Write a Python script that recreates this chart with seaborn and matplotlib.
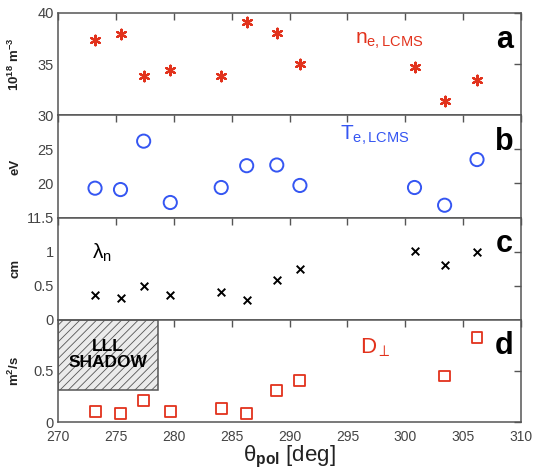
import matplotlib
matplotlib.use("Agg")
import matplotlib.pyplot as plt
import seaborn as sns
import pandas as pd
from matplotlib.patches import Rectangle

# ---- data ----
theta = [273.2, 275.4, 277.4, 279.7, 284.1, 286.3, 288.9, 290.9, 300.8, 303.4, 306.2]
ne = [37.4, 37.9, 33.8, 34.4, 33.8, 39.1, 38.0, 35.0, 34.7, 31.4, 33.4]
te = [19.3, 19.1, 26.2, 17.2, 19.4, 22.6, 22.7, 19.7, 19.4, 16.8, 23.5]
lam = [0.36, 0.32, 0.49, 0.37, 0.41, 0.29, 0.58, 0.74, 1.01, 0.81, 1.00]
theta_d = [273.2, 275.4, 277.4, 279.7, 284.1, 286.3, 288.9, 290.9, 303.4, 306.2]
dperp = [0.10, 0.08, 0.21, 0.10, 0.13, 0.08, 0.31, 0.41, 0.45, 0.83]

xticks = [270, 275, 280, 285, 290, 295, 300, 305, 310]
yt_a = [30, 35, 40]; yl_a = ["30", "35", "40"]
yt_b = [15, 20, 25]; yl_b = ["11.5", "20", "25"]
yt_c = [0, 0.5, 1]; yl_c = ["0", "0.5", "1"]
yt_d = [0, 0.5]; yl_d = ["0", "0.5"]

RED = "#e2321c"
BLUE = "#3556f2"
GREY = "#555555"

sns.set_style("white")
plt.rcParams["font.family"] = ["Liberation Sans", "DejaVu Sans"]
plt.rcParams["mathtext.fontset"] = "custom"
plt.rcParams["mathtext.rm"] = "Liberation Sans"
plt.rcParams["mathtext.it"] = "Liberation Sans:italic"
plt.rcParams["mathtext.bf"] = "Liberation Sans:bold"
plt.rcParams["mathtext.fallback"] = "stixsans"
plt.rcParams["hatch.color"] = "#cfcfcf"
plt.rcParams["hatch.linewidth"] = 0.6

fig = plt.figure(figsize=(5.33, 4.75), dpi=100)
left, right, top, bottom = 58/533, 521/533, 1-13/475, 1-422/475
h = (top - bottom) / 4
axes = [fig.add_axes([left, top - (i+1)*h, right-left, h]) for i in range(4)]
ax_a, ax_b, ax_c, ax_d = axes

df_a = pd.DataFrame({"theta": theta, "v": ne})
df_b = pd.DataFrame({"theta": theta, "v": te})
df_c = pd.DataFrame({"theta": theta, "v": lam})
df_d = pd.DataFrame({"theta": theta_d, "v": dperp})

sns.scatterplot(data=df_a, x="theta", y="v", ax=ax_a, marker=(6, 2, 0), s=48,
                color=RED, edgecolor=RED, linewidth=1.6, legend=False)
sns.scatterplot(data=df_b, x="theta", y="v", ax=ax_b, marker="o", s=90,
                facecolor="none", edgecolor=BLUE, linewidth=1.4, legend=False)
sns.scatterplot(data=df_c, x="theta", y="v", ax=ax_c, marker="x", s=30,
                color="black", linewidth=1.4, legend=False)
sns.scatterplot(data=df_d, x="theta", y="v", ax=ax_d, marker="s", s=62,
                facecolor="none", edgecolor=RED, linewidth=1.3, legend=False)

ylims = [(30, 40), (15, 30), (0, 1.5), (0, 1.0)]
yts = [(yt_a, yl_a), (yt_b, yl_b), (yt_c, yl_c), (yt_d, yl_d)]
ylabels = [r"$\mathbf{10^{18}\ m^{-3}}$", "eV", "cm", r"$\mathbf{m^{2}/s}$"]
for i, ax in enumerate(axes):
    ax.set_xlim(270, 310)
    ax.set_ylim(*ylims[i])
    ax.set_xticks(xticks)
    ax.set_yticks(yts[i][0])
    ax.set_yticklabels(yts[i][1])
    ax.tick_params(direction="in", top=True, right=True, length=5, width=1,
                   color=GREY, labelsize=10.5, labelcolor="#444444", pad=3)
    ax.tick_params(axis="x", pad=6, labelsize=10)
    if i < 3:
        ax.tick_params(labelbottom=False)
    for sp in ax.spines.values():
        sp.set_color(GREY)
        sp.set_linewidth(1.1)
    ax.set_xlabel("")
    ax.set_ylabel(ylabels[i], fontsize=9.5, fontweight="bold", color="#222222")
    ax.yaxis.set_label_coords(-0.078, 0.5)

# panel letters
for ax, letter in zip(axes, ["a", "b", "c", "d"]):
    ax.text(0.964, 0.74, letter, transform=ax.transAxes, fontsize=22,
            fontweight="bold", ha="center", va="center", color="black")

# annotations
ax_a.text(295.7, 37.3, r"$\mathregular{n_{e,LCMS}}$", color=RED, fontsize=15,
          ha="left", va="center")
ax_b.text(294.4, 27.0, r"$\mathregular{T_{e,LCMS}}$", color=BLUE, fontsize=15,
          ha="left", va="center")
ax_c.text(272.9, 0.98, r"$\mathregular{\lambda_{n}}$", color="black", fontsize=15,
          ha="left", va="center")
ax_d.text(296.1, 0.73, r"$\mathregular{D_{\perp}}$", color=RED, fontsize=16,
          ha="left", va="center")

# LLL shadow box
rect = Rectangle((270, 0.31), 8.6, 0.69, facecolor="#ebebeb", edgecolor="#555555",
                 linewidth=1.1, hatch="////", zorder=1)
ax_d.add_patch(rect)
ax_d.text(274.3, 0.66, "LLL\nSHADOW", fontsize=12.5, fontweight="bold",
          ha="center", va="center", color="black", linespacing=1.1, zorder=3)

ax_d.set_xlabel(r"$\mathregular{\theta_{\mathbf{pol}}}$ [deg]", fontsize=16,
                color="#222222", labelpad=0)

fig.savefig("out.png", dpi=100)
